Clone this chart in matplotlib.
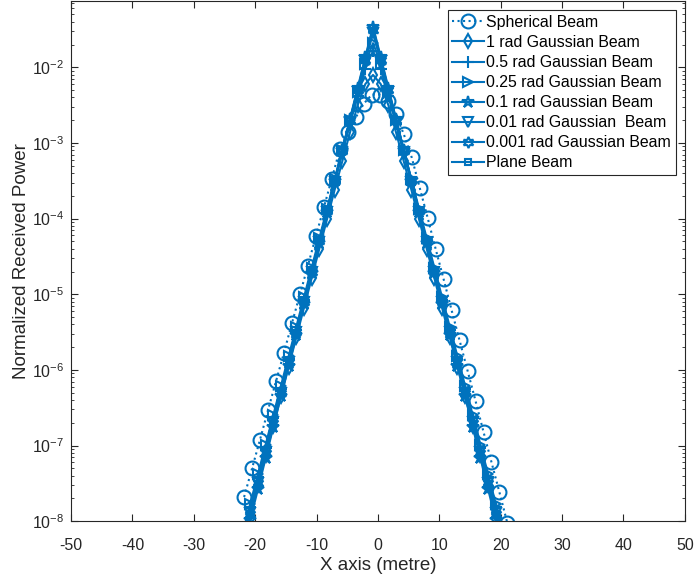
import numpy as np
import matplotlib
matplotlib.use("Agg")
import matplotlib.pyplot as plt

plt.rcParams['font.family'] = ['Liberation Sans', 'DejaVu Sans']
plt.rcParams['mathtext.fontset'] = 'custom'
plt.rcParams['mathtext.rm'] = 'Liberation Sans'
plt.rcParams['axes.unicode_minus'] = False

# spherical beam samples (x in metre, log10 of normalized power)
x_sph = [-21.8, -20.5, -19.2, -17.9, -16.6, -15.3, -14.0, -12.7, -11.4, -10.1, -8.8, -7.5,
         -6.2, -4.9, -3.6, -2.3, -1.0, 0.3, 1.6, 2.9, 4.2, 5.5, 6.8, 8.1, 9.4, 10.7,
         12.0, 13.3, 14.6, 15.9, 17.2, 18.5, 19.8, 21.1]
log_sph = [-7.68, -7.30, -6.92, -6.53, -6.15, -5.77, -5.38, -5.00, -4.62, -4.23, -3.85, -3.47,
           -3.08, -2.86, -2.66, -2.48, -2.36, -2.36, -2.45, -2.62, -2.88, -3.19, -3.59, -3.99,
           -4.40, -4.80, -5.21, -5.61, -6.01, -6.41, -6.82, -7.22, -7.62, -8.03]

# gaussian / plane beam samples share one x grid
x_gauss = [-22.05, -20.8, -19.55, -18.3, -17.05, -15.8, -14.55, -13.3, -12.05, -10.8, -9.55,
           -8.3, -7.05, -5.8, -4.55, -3.3, -2.05, -0.8, 0.45, 1.7, 2.95, 4.2, 5.45, 6.7,
           7.95, 9.2, 10.45, 11.7, 12.95, 14.2, 15.45, 16.7, 17.95, 19.2, 20.45]

log_1rad = [-8.30, -7.91, -7.52, -7.13, -6.74, -6.35, -5.96, -5.57, -5.18, -4.79, -4.40, -4.01,
            -3.62, -3.24, -2.86, -2.50, -2.22, -2.10, -2.22, -2.50, -2.86, -3.24, -3.62, -4.01,
            -4.40, -4.79, -5.18, -5.57, -5.96, -6.35, -6.74, -7.13, -7.52, -7.91, -8.30]
log_05rad = [-8.20, -7.81, -7.42, -7.03, -6.64, -6.25, -5.86, -5.47, -5.08, -4.69, -4.30, -3.91,
             -3.52, -3.13, -2.75, -2.38, -2.02, -1.78, -2.02, -2.38, -2.75, -3.13, -3.52, -3.91,
             -4.30, -4.69, -5.08, -5.47, -5.86, -6.25, -6.64, -7.03, -7.42, -7.81, -8.20]
log_025rad = [-8.16, -7.77, -7.38, -6.99, -6.60, -6.21, -5.82, -5.43, -5.04, -4.65, -4.26, -3.87,
              -3.48, -3.09, -2.70, -2.32, -1.95, -1.68, -1.95, -2.32, -2.70, -3.09, -3.48, -3.87,
              -4.26, -4.65, -5.04, -5.43, -5.82, -6.21, -6.60, -6.99, -7.38, -7.77, -8.16]
log_01rad = [-8.39, -7.98, -7.58, -7.17, -6.76, -6.35, -5.95, -5.54, -5.13, -4.72, -4.32, -3.91,
             -3.50, -3.09, -2.68, -2.27, -1.86, -1.46, -1.86, -2.27, -2.68, -3.09, -3.50, -3.91,
             -4.32, -4.72, -5.13, -5.54, -5.95, -6.35, -6.76, -7.17, -7.58, -7.98, -8.39]
log_001rad = [-8.28, -7.89, -7.49, -7.09, -6.69, -6.30, -5.90, -5.50, -5.10, -4.71, -4.31, -3.91,
              -3.51, -3.12, -2.72, -2.32, -1.92, -1.55, -1.92, -2.32, -2.72, -3.12, -3.51, -3.91,
              -4.31, -4.71, -5.10, -5.50, -5.90, -6.30, -6.69, -7.09, -7.49, -7.89, -8.28]
log_0001rad = [-8.30, -7.90, -7.50, -7.10, -6.70, -6.30, -5.90, -5.50, -5.10, -4.70, -4.30, -3.90,
               -3.50, -3.10, -2.70, -2.30, -1.90, -1.50, -1.90, -2.30, -2.70, -3.10, -3.50, -3.90,
               -4.30, -4.70, -5.10, -5.50, -5.90, -6.30, -6.70, -7.10, -7.50, -7.90, -8.30]
log_plane = [-8.32, -7.92, -7.52, -7.12, -6.71, -6.31, -5.91, -5.51, -5.10, -4.70, -4.30, -3.90,
             -3.49, -3.09, -2.69, -2.29, -1.88, -1.48, -1.88, -2.29, -2.69, -3.09, -3.49, -3.90,
             -4.30, -4.70, -5.10, -5.51, -5.91, -6.31, -6.71, -7.12, -7.52, -7.92, -8.32]

labels = ['Spherical Beam', '1 rad Gaussian Beam', '0.5 rad Gaussian Beam',
          '0.25 rad Gaussian Beam', '0.1 rad Gaussian Beam', '0.01 rad Gaussian  Beam',
          '0.001 rad Gaussian Beam', 'Plane Beam']

blue = '#0072BD'
fig = plt.figure(figsize=(6.96, 5.83), dpi=100)
ax = fig.add_axes([0.102, 0.106, 0.882, 0.892])

ax.semilogy(x_sph, np.power(10.0, log_sph), ':', marker='o', color=blue, lw=1.5,
            ms=10, mfc='none', mew=1.5, label=labels[0])
gauss = [(log_1rad, 'd', 7), (log_05rad, '+', 8), (log_025rad, '>', 7), (log_01rad, '*', 9),
         (log_001rad, 'v', 7), (log_0001rad, (6, 1, 0), 8), (log_plane, 's', 5)]
for (vals, mk, ms), lab in zip(gauss, labels[1:]):
    ax.semilogy(x_gauss, np.power(10.0, vals), '-', marker=mk, color=blue, lw=1.5,
                ms=ms, mfc='none', mew=1.5, label=lab)

ax.set_xlim(-50, 50)
ax.set_ylim(1e-8, 0.075)
ax.set_xticks(np.arange(-50, 51, 10))
ax.tick_params(which='both', direction='in', top=True, right=True, colors='#262626',
               labelsize=11.5)
ax.tick_params(which='major', length=5)
ax.tick_params(which='minor', length=2.5)
ax.tick_params(axis='x', pad=12)
ax.tick_params(axis='y', pad=5)
for s in ax.spines.values():
    s.set_color('#262626')
    s.set_linewidth(0.8)
ax.set_xlabel('X axis (metre)', fontsize=13.5, color='#262626', labelpad=3)
ax.set_ylabel('Normalized Received Power', fontsize=13.5, color='#262626', labelpad=1)

leg = ax.legend(loc='upper right', fontsize=11.4, fancybox=False, edgecolor='#262626',
                framealpha=1, handlelength=2.0, borderaxespad=0.57, labelspacing=0.32,
                handletextpad=0.15, borderpad=0.3)
leg.get_frame().set_linewidth(0.8)

fig.savefig('out.png', dpi=100)
